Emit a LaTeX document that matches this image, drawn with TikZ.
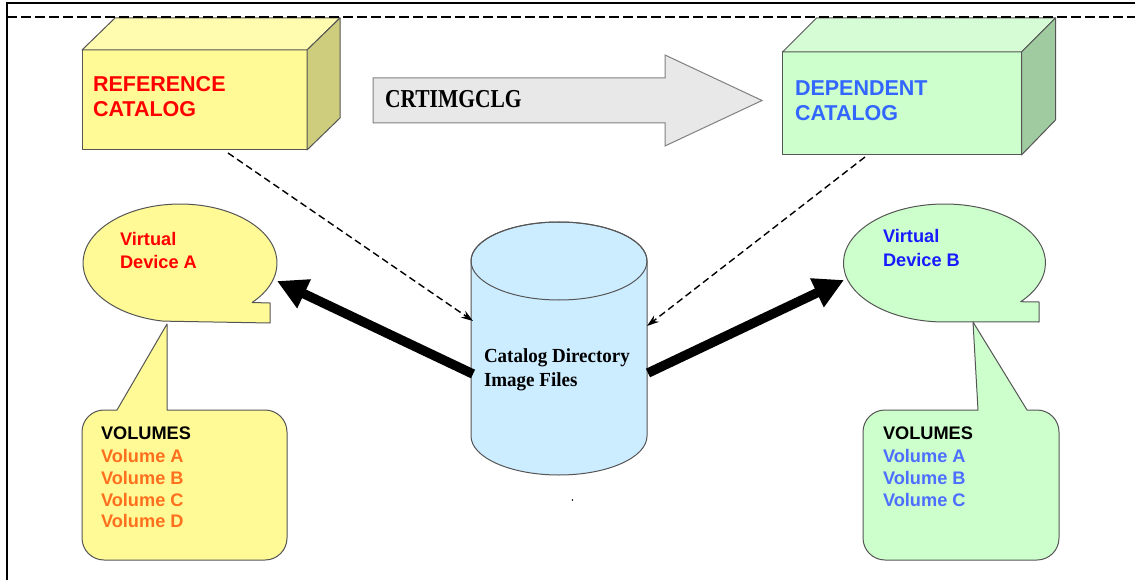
\documentclass[tikz,border=0pt]{standalone}
\usepackage{fontspec}
\setmainfont{Liberation Serif}
\newfontfamily\sansf{Liberation Sans}
\usetikzlibrary{arrows.meta}
\definecolor{yfront}{RGB}{255,250,150}
\definecolor{ytop}{RGB}{255,252,175}
\definecolor{yside}{RGB}{205,205,125}
\definecolor{gfront}{RGB}{204,255,204}
\definecolor{gtop}{RGB}{214,252,214}
\definecolor{gside}{RGB}{160,202,160}
\definecolor{cylfill}{RGB}{204,236,255}
\definecolor{arrfill}{RGB}{232,232,232}
\definecolor{edgegray}{RGB}{85,85,85}
\definecolor{refred}{RGB}{255,0,0}
\definecolor{depblue}{RGB}{51,102,255}
\definecolor{devblue}{RGB}{26,26,255}
\definecolor{volblue}{RGB}{77,110,255}
\definecolor{volorange}{RGB}{255,112,30}
\begin{document}
\begin{tikzpicture}[x=1pt,y=1pt,
  shapeedge/.style={draw=edgegray,line width=1pt,line join=round},
  facebox/.style={shapeedge,rectangle,inner sep=0pt,outer sep=0pt},
  lbl/.style={anchor=base west,inner sep=0pt,outer sep=0pt},
  catfont/.style={font=\sansf\bfseries\fontsize{21.5}{24}\selectfont},
  smallfont/.style={font=\sansf\bfseries\fontsize{18.2}{22}\selectfont},
  dashedarrow/.style={line width=1.4pt,dash pattern=on 7pt off 4pt,-{Stealth[length=12pt,width=8pt]}},
  thickarrow/.style={line width=9.5pt,-{Triangle[length=30pt,width=30pt]}}]
\useasboundingbox (0,0) rectangle (1135,-580);
\fill[white] (0,0) rectangle (1135,-580);
% frame
\draw[line width=1.5pt] (7,-580) -- (7,-3) -- (1135,-3);
% reference catalog
\node[facebox,fill=yfront,minimum width=225pt,minimum height=100pt] (ref) at (194.5,-100) {};
\filldraw[shapeedge,fill=ytop] (ref.north west) -- ++(33,32) -- ++(225,0) -- (ref.north east) -- cycle;
\filldraw[shapeedge,fill=yside] (ref.north east) -- ++(33,32) -- ++(0,-100) -- (ref.south east) -- cycle;
\node[lbl,catfont,text=refred] (ref1) at (93,-92) {REFERENCE};
\node[lbl,catfont,text=refred] (ref2) at (93,-117) {CATALOG};
% dependent catalog
\node[facebox,fill=gfront,minimum width=239pt,minimum height=103pt] (dep) at (902,-103.5) {};
\filldraw[shapeedge,fill=gtop] (dep.north west) -- ++(34,34) -- ++(239,0) -- (dep.north east) -- cycle;
\filldraw[shapeedge,fill=gside] (dep.north east) -- ++(34,34) -- ++(0,-102) -- (dep.south east) -- cycle;
\node[lbl,catfont,text=depblue] (dep1) at (795,-96) {DEPENDENT};
\node[lbl,catfont,text=depblue] (dep2) at (795,-121) {CATALOG};
% dashed top line
\draw[line width=2pt,dash pattern=on 10pt off 4pt] (7,-17) -- (1135,-17);
% big arrow
\filldraw[draw=gray,line width=1pt,fill=arrfill,line join=miter]
  (373,-78) -- (665,-78) -- (665,-55) -- (762,-100.5) -- (665,-146) -- (665,-123) -- (373,-123) -- cycle;
\node[lbl] (crt) at (385,-108) {\scalebox{1}[1.2]{\bfseries\fontsize{21.5}{24}\selectfont CRTIMGCLG}};
% cylinder
\filldraw[shapeedge,fill=cylfill] (471,-261) -- (471,-436)
  arc[start angle=180,end angle=360,x radius=88pt,y radius=39pt] -- (647,-261)
  arc[start angle=0,end angle=180,x radius=88pt,y radius=39pt] -- cycle;
\draw[shapeedge] (559,-261) ellipse[x radius=88pt,y radius=39pt];
\node[lbl] (cat1) at (484,-362) {\scalebox{1}[1.05]{\bfseries\fontsize{19}{22}\selectfont Catalog Directory}};
\node[lbl] (cat2) at (484,-386) {\scalebox{1}[1.05]{\bfseries\fontsize{19}{22}\selectfont Image Files}};
\coordinate (cylL) at (473,-374);
\coordinate (cylR) at (648,-373);
\coordinate (cylLin) at (473,-321);
\coordinate (cylRin) at (647,-326);
\fill (572.5,-500) circle (0.9pt);
% virtual device A callout
\filldraw[shapeedge,fill=yfront] (252.1,-302.5)
  arc[start angle=-42,end angle=260,x radius=97pt,y radius=59pt]
  -- (270,-323) -- (270,-303) -- cycle;
\node[lbl,smallfont,text=refred] (vda1) at (120,-245) {Virtual};
\node[lbl,smallfont,text=refred] (vda2) at (120,-269) {Device A};
\coordinate (vdaTip) at (277,-281);
% volumes A
\filldraw[shapeedge,fill=yfront] (82,-432) -- (82,-538)
  arc[start angle=180,end angle=270,radius=22pt] -- (265,-560)
  arc[start angle=270,end angle=360,radius=22pt] -- (287,-432)
  arc[start angle=0,end angle=90,radius=22pt] -- (167,-410) -- (167,-324) -- (117,-410) -- (104,-410)
  arc[start angle=90,end angle=180,radius=22pt] -- cycle;
\node[lbl,smallfont,text=black] (vola0) at (101,-439) {VOLUMES};
\node[lbl,smallfont,text=volorange] (vola1) at (101,-462) {Volume A};
\node[lbl,smallfont,text=volorange] (vola2) at (101,-484) {Volume B};
\node[lbl,smallfont,text=volorange] (vola3) at (101,-506) {Volume C};
\node[lbl,smallfont,text=volorange] (vola4) at (101,-527) {Volume D};
% virtual device B callout
\filldraw[shapeedge,fill=gfront] (1020.7,-301.7)
  arc[start angle=-41,end angle=265,x radius=101pt,y radius=59pt]
  -- (1039,-322) -- (1039,-302) -- cycle;
\node[lbl,smallfont,text=devblue] (vdb1) at (883,-243) {Virtual};
\node[lbl,smallfont,text=devblue] (vdb2) at (883,-266) {Device B};
\coordinate (vdbTip) at (844,-280);
% volumes B
\filldraw[shapeedge,fill=gfront] (863,-432) -- (863,-538)
  arc[start angle=180,end angle=270,radius=22pt] -- (1037,-560)
  arc[start angle=270,end angle=360,radius=22pt] -- (1059,-432)
  arc[start angle=0,end angle=90,radius=22pt] -- (1027,-410) -- (973,-322) -- (978,-410) -- (885,-410)
  arc[start angle=90,end angle=180,radius=22pt] -- cycle;
\node[lbl,smallfont,text=black] (volb0) at (883,-439) {VOLUMES};
\node[lbl,smallfont,text=volblue] (volb1) at (883,-462) {Volume A};
\node[lbl,smallfont,text=volblue] (volb2) at (883,-484) {Volume B};
\node[lbl,smallfont,text=volblue] (volb3) at (883,-506) {Volume C};
% connectors
\coordinate (refOut) at (228,-153);
\coordinate (depOut) at (865,-157);
\draw[dashedarrow] (refOut) -- (cylLin);
\draw[dashedarrow] (depOut) -- (cylRin);
\draw[thickarrow] (cylL) -- (vdaTip);
\draw[thickarrow] (cylR) -- (vdbTip);
\end{tikzpicture}
\end{document}
